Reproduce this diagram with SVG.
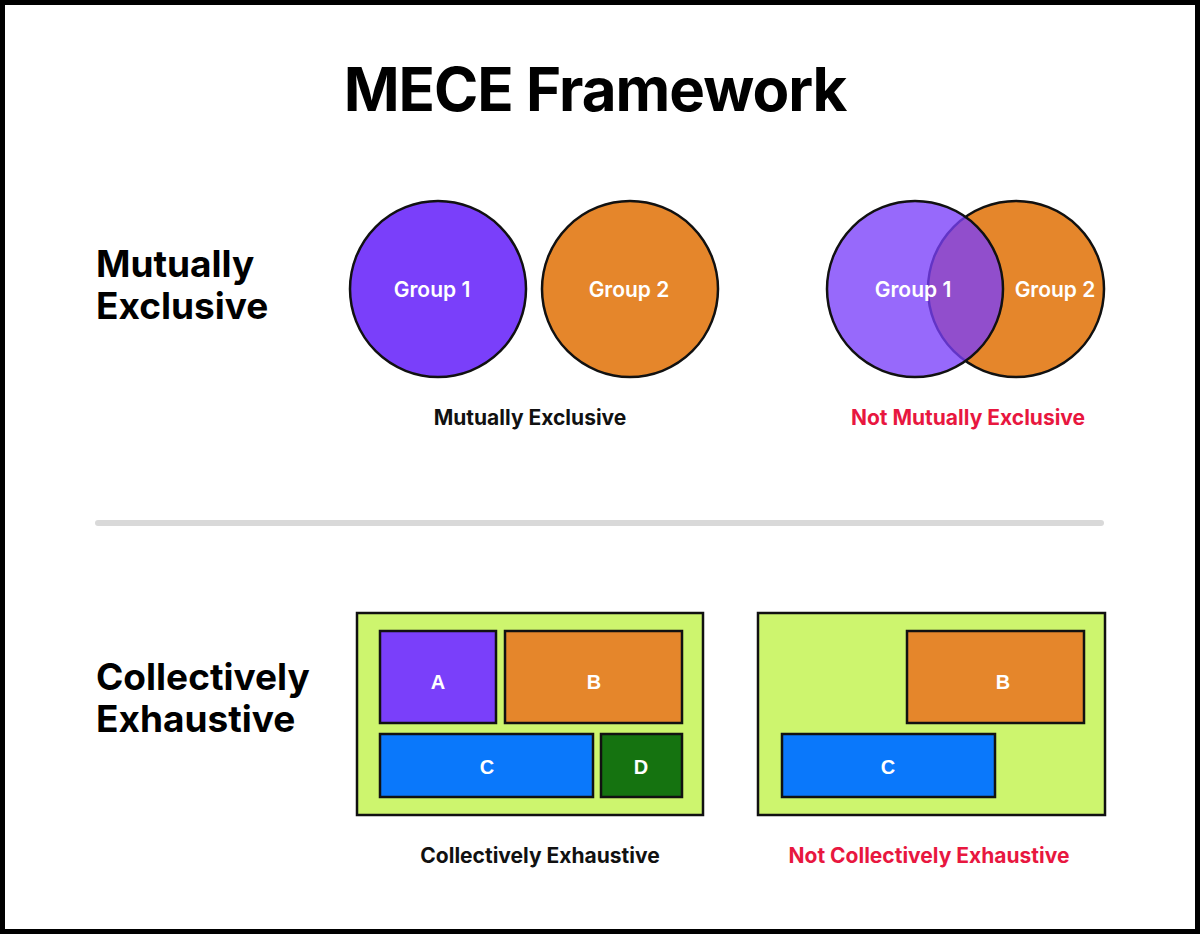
<svg xmlns="http://www.w3.org/2000/svg" width="1200" height="934" viewBox="0 0 1200 934">
<style>
.t{font-family:"Inter","Liberation Sans",sans-serif;font-weight:700}
.h{font-size:37px;fill:#000}
.cap{font-size:21px;text-anchor:middle}
.cl{font-size:21px;fill:#fff;text-anchor:middle;font-weight:600}
.bl{font-family:"Liberation Sans",sans-serif;font-weight:700;font-size:20px;fill:#fff;text-anchor:middle}
.s{stroke:#111;stroke-width:2.5}
</style>
<rect x="2.5" y="2.5" width="1195" height="929" fill="#fff" stroke="#000" stroke-width="5"/>
<text class="t" x="595" y="111" font-size="60" text-anchor="middle" letter-spacing="-1">MECE Framework</text>
<g id="me-heading"><text class="t h" x="96" y="277">Mutually</text><text class="t h" x="96" y="319">Exclusive</text></g>
<g id="me-group1"><circle class="s" cx="438" cy="289" r="88" fill="#7a3ffa"/><text class="t cl" x="432" y="297">Group 1</text></g>
<g id="me-group2"><circle class="s" cx="630" cy="289" r="88" fill="#e5862b"/><text class="t cl" x="629" y="297">Group 2</text></g>
<text class="t cap" x="530" y="425" fill="#111">Mutually Exclusive</text>
<g id="nme-group2"><circle class="s" cx="1016" cy="289" r="88" fill="#e5862b"/><text class="t cl" x="1055" y="297">Group 2</text></g>
<g id="nme-group1"><circle class="s" cx="915" cy="289" r="88" fill="#7a3ffa" fill-opacity="0.78"/><text class="t cl" x="913" y="297">Group 1</text></g>
<text class="t cap" x="968" y="425" fill="#e8173f">Not Mutually Exclusive</text>
<line x1="98" y1="523" x2="1101" y2="523" stroke="#d9d9d9" stroke-width="6" stroke-linecap="round"/>
<g id="ce-heading"><text class="t h" x="96" y="690">Collectively</text><text class="t h" x="96" y="732">Exhaustive</text></g>
<g id="ce-box"><rect class="s" x="357" y="613" width="346" height="202" fill="#cdf56e"/></g>
<g id="ce-A"><rect class="s" x="380" y="631" width="116" height="92" fill="#7a3ffa"/><text class="bl" x="438" y="689">A</text></g>
<g id="ce-B"><rect class="s" x="505" y="631" width="177" height="92" fill="#e5862b"/><text class="bl" x="594" y="689">B</text></g>
<g id="ce-C"><rect class="s" x="380" y="734" width="213" height="63" fill="#0a78fb"/><text class="bl" x="487" y="774">C</text></g>
<g id="ce-D"><rect class="s" x="601" y="734" width="81" height="63" fill="#157310"/><text class="bl" x="641" y="774">D</text></g>
<text class="t cap" x="540" y="863" fill="#111">Collectively Exhaustive</text>
<g id="nce-box"><rect class="s" x="758" y="613" width="347" height="202" fill="#cdf56e"/></g>
<g id="nce-B"><rect class="s" x="907" y="631" width="177" height="92" fill="#e5862b"/><text class="bl" x="1003" y="689">B</text></g>
<g id="nce-C"><rect class="s" x="782" y="734" width="213" height="63" fill="#0a78fb"/><text class="bl" x="888" y="774">C</text></g>
<text class="t cap" x="929" y="863" fill="#e8173f">Not Collectively Exhaustive</text>
<g id="connectors"/>
</svg>
